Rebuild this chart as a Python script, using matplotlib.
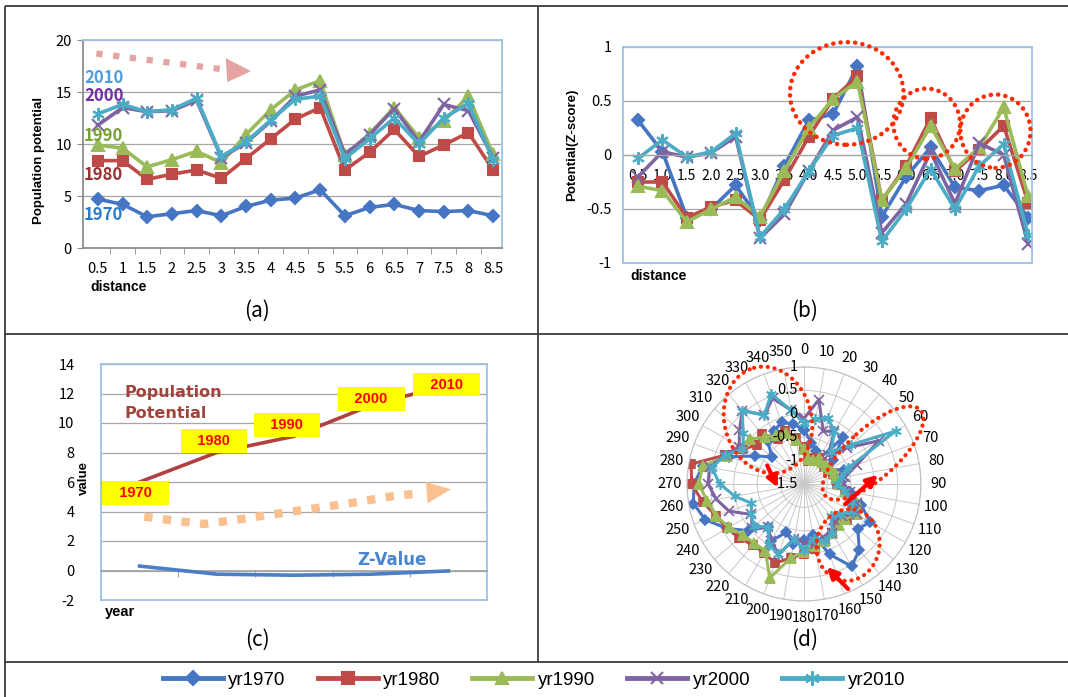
import matplotlib
matplotlib.use('Agg')
import matplotlib.pyplot as plt
import numpy as np
from matplotlib.patches import Ellipse, Polygon, FancyArrowPatch
from matplotlib.transforms import offset_copy
from matplotlib.lines import Line2D

plt.rcParams['font.family'] = ['Noto Sans CJK KR', 'DejaVu Sans']
plt.rcParams['axes.unicode_minus'] = False

W, H = 1068, 697

# ---------------- data ----------------
series_names = ['yr1970', 'yr1980', 'yr1990', 'yr2000', 'yr2010']

distance = [0.5, 1.0, 1.5, 2.0, 2.5, 3.0, 3.5, 4.0, 4.5, 5.0, 5.5, 6.0, 6.5, 7.0, 7.5, 8.0, 8.5]
dist_labels_a = ['0.5', '1', '1.5', '2', '2.5', '3', '3.5', '4', '4.5', '5', '5.5', '6', '6.5', '7', '7.5', '8', '8.5']
dist_labels_b = ['0.5', '1.0', '1.5', '2.0', '2.5', '3.0', '3.5', '4.0', '4.5', '5.0', '5.5', '6.0', '6.5', '7.0', '7.5', '8.0', '8.5']

pot_1970 = [4.7, 4.2, 3.0, 3.3, 3.6, 3.1, 4.0, 4.6, 4.8, 5.6, 3.1, 3.9, 4.2, 3.6, 3.5, 3.6, 3.1]
pot_1980 = [8.4, 8.4, 6.6, 7.1, 7.5, 6.7, 8.6, 10.5, 12.4, 13.5, 7.5, 9.2, 11.4, 8.8, 9.9, 11.1, 7.5]
pot_1990 = [9.9, 9.6, 7.8, 8.5, 9.3, 8.2, 10.9, 13.3, 15.2, 16.1, 8.9, 11.0, 13.5, 10.6, 12.2, 14.6, 9.0]
pot_2000 = [11.8, 13.5, 13.1, 13.2, 14.2, 8.7, 10.1, 12.2, 14.6, 15.2, 9.0, 10.9, 13.4, 10.2, 13.8, 13.2, 8.7]
pot_2010 = [12.9, 13.8, 13.1, 13.3, 14.4, 8.8, 10.2, 12.3, 14.3, 14.6, 8.6, 10.5, 12.5, 10.0, 12.5, 13.9, 8.5]

z_1970 = [0.32, 0.03, -0.58, -0.50, -0.28, -0.60, -0.10, 0.32, 0.38, 0.82, -0.57, -0.20, 0.07, -0.30, -0.33, -0.28, -0.58]
z_1980 = [-0.25, -0.25, -0.58, -0.48, -0.42, -0.60, -0.23, 0.17, 0.52, 0.73, -0.42, -0.10, 0.34, -0.15, 0.05, 0.27, -0.44]
z_1990 = [-0.29, -0.33, -0.62, -0.50, -0.39, -0.57, -0.15, 0.25, 0.52, 0.68, -0.42, -0.12, 0.27, -0.13, 0.07, 0.44, -0.38]
z_2000 = [-0.20, 0.03, -0.02, 0.02, 0.17, -0.77, -0.55, -0.15, 0.23, 0.35, -0.72, -0.45, 0.03, -0.45, 0.11, 0.00, -0.82]
z_2010 = [-0.03, 0.14, -0.02, 0.03, 0.20, -0.76, -0.50, -0.15, 0.18, 0.25, -0.80, -0.50, -0.13, -0.50, -0.10, 0.10, -0.74]

years = ['1970', '1980', '1990', '2000', '2010']
pop_potential = [6.0, 8.0, 9.1, 11.2, 12.6]
z_value = [0.30, -0.25, -0.32, -0.25, -0.03]

angles = list(range(0, 360, 10))
polar_1970 = [-0.35, -0.6, -0.75, -0.9, -0.2, -0.7, -0.9, -0.6, -0.8, -0.8, -0.5, -0.2, 0.13, 0.0, 0.34, 0.53, 0.1, -0.4,
              -0.3, -0.2, -0.4, -0.1, -0.3, 0.05, 0.4, 0.74, 0.9, 0.85, 0.7, 0.2, -0.3, -0.6, -0.3, -0.2, -0.1, -0.2]
polar_1980 = [-0.7, -1.0, -0.9, -0.85, -0.9, -0.95, -0.9, -0.85, -0.8, -0.8, -0.6, -0.4, -0.3, -0.3, -0.4, -0.3, -0.2, -0.1,
              0.0, 0.1, 0.3, 0.2, 0.2, 0.3, 0.4, 0.5, 0.7, 0.9, 0.95, 0.3, 0.0, -0.2, -0.1, -0.4, -0.3, -0.5]
polar_1990 = [-0.75, -0.95, -0.95, -0.85, -0.9, -0.9, -0.85, -0.8, -0.8, -0.75, -0.6, -0.3, -0.2, -0.35, -0.35, -0.3, -0.2, -0.15,
              -0.05, 0.1, 0.64, 0.15, 0.15, 0.2, 0.35, 0.5, 0.6, 0.75, 0.7, 0.25, 0.1, 0.0, -0.2, -0.3, -0.35, -0.55]
polar_2000 = [-0.1, 0.33, -0.3, -0.2, -0.7, -0.3, 0.35, -0.3, -0.6, -0.65, -0.5, -0.3, -0.2, -0.45, -0.5, -0.3, -0.3, -0.2,
              -0.25, -0.3, 0.1, -0.1, -0.3, -0.05, -0.2, 0.2, 0.4, 0.55, 0.55, 0.3, 0.1, 0.3, 0.55, 0.2, 0.45, 0.1]
polar_2010 = [-0.2, -0.1, 0.0, -0.2, -0.6, -0.2, 0.76, -0.5, -0.7, -0.8, -0.6, -0.4, -0.3, -0.5, -0.6, -0.3, -0.2, -0.3,
              -0.1, -0.3, 0.1, 0.0, -0.3, -0.1, -0.2, -0.3, 0.0, 0.3, 0.5, 0.3, 0.0, 0.2, 0.55, 0.2, 0.55, 0.1]

# ---------------- styles ----------------
colors = ['#4675C3', '#BE4B48', '#9BBB59', '#8064A2', '#4BACC6']
markers = ['D', 's', '^', 'x', (6, 2, 0)]
msizes = [6, 7.5, 8, 8, 9]
LB = '#9DC3E6'
GRID = '#A6A6A6'
BOLD = dict(family=['Liberation Sans', 'DejaVu Sans'], fontweight='bold')

fig = plt.figure(figsize=(W / 100, H / 100), dpi=100)


def rect(l, t, r, b):
    return [l / W, 1 - b / H, (r - l) / W, (b - t) / H]


def style_box(ax):
    for s in ax.spines.values():
        s.set_color(LB)
        s.set_linewidth(1.3)


# ---------------- (a) ----------------
axA = fig.add_axes(rect(83, 40, 502, 248))
pots = [pot_1970, pot_1980, pot_1990, pot_2000, pot_2010]
for vals, c, m, ms, n in zip(pots, colors, markers, msizes, series_names):
    axA.plot(distance, vals, color=c, marker=m, ms=ms, lw=2.6, mew=1.5, label=n)
axA.set_ylim(0, 20)
axA.set_yticks([0, 5, 10, 15, 20])
axA.set_xlim(distance[0] - 0.3, distance[-1] + 0.18)
axA.set_xticks(distance)
axA.set_xticklabels(dist_labels_a)
axA.set_xticks([d + 0.25 for d in distance[:-1]], minor=True)
axA.grid(axis='y', color=GRID, lw=0.9)
axA.set_axisbelow(True)
style_box(axA)
axA.spines['left'].set_color('#8C8C8C')
axA.spines['bottom'].set_color('#8C8C8C')
axA.tick_params(axis='x', which='major', length=0, pad=10, labelsize=10.5)
axA.tick_params(axis='x', which='minor', length=4, color='#8C8C8C')
axA.tick_params(axis='y', length=4, color='#8C8C8C', pad=4, labelsize=10.5)
axA.set_ylabel('Population potential', fontsize=9.5, **BOLD)
axA.yaxis.set_label_coords(-(83 - 45) / 419, (248 - 160) / 208)
axA.set_xlabel('distance', fontsize=10, ha='left', va='center', **BOLD)
axA.xaxis.set_label_coords(7 / 419, -(287 - 248) / 208)
# year labels
for txt, y, c in [('2010', 16.35, '#4F9DDC'), ('2000', 14.6, '#7030A0'), ('1990', 10.8, '#77A035'),
                  ('1980', 7.0, '#9B3030'), ('1970', 3.2, '#2B7CC9')]:
    axA.text(0.22, y, txt, color=c, fontsize=12, fontweight='bold', va='center', ha='left',
             family=['Noto Sans CJK KR', 'DejaVu Sans'])
# pink dotted arrow
axA.plot([0.47, 3.0], [18.7, 17.2], color='#E6A3A3', lw=4.5, ls=(0, (1, 1.7)), solid_capstyle='butt')
axA.add_patch(Polygon([(3.09, 18.25), (3.12, 15.95), (3.6, 17.0)], closed=True, color='#E6A3A3', lw=0))

# ---------------- (b) ----------------
axB = fig.add_axes(rect(623, 47, 1032, 263))
zs = [z_1970, z_1980, z_1990, z_2000, z_2010]
for vals, c, m, ms, n in zip(zs, colors, markers, msizes, series_names):
    axB.plot(distance, vals, color=c, marker=m, ms=ms, lw=2.6, mew=1.5)
axB.set_ylim(-1, 1)
axB.set_yticks([-1, -0.5, 0, 0.5, 1])
axB.set_yticklabels(['-1', '-0.5', '0', '0.5', '1'])
axB.set_xlim(distance[0] - 0.31, distance[-1] + 0.08)
axB.set_xticks(distance)
axB.set_xticklabels(dist_labels_b)
axB.grid(axis='y', color=GRID, lw=0.9)
axB.set_axisbelow(True)
style_box(axB)
axB.spines['bottom'].set_position(('data', 0))
axB.spines['bottom'].set_color(GRID)
axB.spines['bottom'].set_linewidth(0.9)
axB.axhline(-1, color=LB, lw=1.3, clip_on=False)
axB.tick_params(axis='x', length=0, pad=10, labelsize=10)
axB.tick_params(axis='y', length=0, pad=8, labelsize=10.5)
axB.set_ylabel('Potential(Z-score)', fontsize=9.5, **BOLD)
axB.yaxis.set_label_coords(-(623 - 578) / 409, (263 - 145) / 216)
axB.set_xlabel('distance', fontsize=10, ha='left', va='center', **BOLD)
axB.xaxis.set_label_coords(7 / 409, -(276 - 263) / 216)
for (ex, ey, w, h) in [(4.78, 0.57, 2.33, 0.95), (6.42, 0.29, 1.37, 0.65), (7.83, 0.22, 1.44, 0.68)]:
    e = Ellipse((ex, ey), w, h, fill=False, ec='#FF2A00', lw=3.2, ls=(0, (0.05, 1.6)), clip_on=False, zorder=5)
    e.set_capstyle('round')
    axB.add_patch(e)

# ---------------- (c) ----------------
axC = fig.add_axes(rect(101, 364, 487, 600))
xc = np.arange(len(years))
axC.plot(xc, pop_potential, color='#B0413E', lw=2.6, zorder=3)
axC.plot(xc, z_value, color='#4A7EC6', lw=2.6, zorder=3)
axC.set_xlim(-0.5, len(years) - 0.5)
axC.set_ylim(-2, 14)
axC.set_yticks(range(-2, 15, 2))
axC.grid(axis='y', color=GRID, lw=0.9)
axC.set_axisbelow(True)
style_box(axC)
axC.spines['bottom'].set_position(('data', 0))
axC.spines['bottom'].set_color(GRID)
axC.set_xticks([0.5, 1.5, 2.5, 3.5])
axC.set_xticklabels([])
axC.tick_params(axis='x', length=4, color=GRID)
axC.tick_params(axis='y', length=0, pad=19, labelsize=10.5)
axC.axhline(-2, color=LB, lw=1.3, clip_on=False)
axC.set_ylabel('value', fontsize=9.5, **BOLD)
axC.yaxis.set_label_coords(-(101 - 90) / 386, (600 - 478) / 236)
axC.text(0.01, -0.02, 'year', transform=axC.transAxes, fontsize=10.5, ha='left', va='top', **BOLD)
axC.text(0.06, 0.835, 'Population\nPotential', transform=axC.transAxes, fontsize=11.5, color='#A0433C',
         fontweight='bold', family='DejaVu Sans', va='center', linespacing=1.55)
axC.text(0.665, 0.17, 'Z-Value', transform=axC.transAxes, fontsize=12, color='#4A86D0',
         fontweight='bold', family='DejaVu Sans', va='center')
# orange dotted arrow
cur_x = [0.06, 0.5, 0.84, 1.2, 1.65, 2.25, 2.77, 3.29, 3.66]
cur_y = [3.65, 3.35, 3.15, 3.4, 3.75, 4.2, 4.6, 5.05, 5.25]
axC.plot(cur_x, cur_y, color='#FAC08F', lw=6, ls=(0, (1, 1.25)), solid_capstyle='butt', zorder=2)
axC.add_patch(Polygon([(3.71, 6.0), (3.73, 4.55), (4.03, 5.5)], closed=True, color='#FAC08F', lw=0, zorder=2))
# yellow year boxes
box_off = [(-3, -8), (-2, 8.5), (-5, 8), (0, 4.5), (-1.5, 0)]
for x, y, lab, off in zip(xc, pop_potential, years, box_off):
    axC.annotate('   ' + lab + '   ', (x, y), xytext=off, textcoords='offset points', ha='center', va='center',
                 fontsize=10.5, color='#FF0000', fontweight='bold', family=['Liberation Sans', 'DejaVu Sans'],
                 bbox=dict(boxstyle='square,pad=0.33', fc='#FFFF00', ec='none'), zorder=6, annotation_clip=False)

# ---------------- (d) ----------------
cx, cy, R = 804, 484, 117
axD = fig.add_axes(rect(cx - R, cy - R, cx + R, cy + R), projection='polar')
axD.set_theta_zero_location('N')
axD.set_theta_direction(-1)
pols = [polar_1970, polar_1980, polar_1990, polar_2000, polar_2010]
th = np.deg2rad(angles + [angles[0]])
for vals, c, m, ms in zip(pols, colors, markers, msizes):
    axD.plot(th, vals + [vals[0]], color=c, marker=m, ms=ms * 0.85, lw=2.2, mew=1.2)
axD.set_ylim(-1.5, 1)
rticks = [-1.5, -1, -0.5, 0, 0.5, 1]
axD.set_yticks(rticks)
axD.set_yticklabels([])
axD.set_thetagrids(angles, labels=[str(a) for a in angles])
axD.tick_params(axis='x', pad=2, labelsize=10.5)
axD.grid(color='#C8C8C8', lw=0.7)
axD.spines['polar'].set_color('#BFBFBF')
tr = offset_copy(axD.transData, fig=fig, x=-6, y=0, units='dots')
for v in rticks:
    axD.text(0, v, ('%g' % v), transform=tr, ha='right', va='center', fontsize=10.5, zorder=8)

# ---------------- overlay: table lines, labels, annotations ----------------
ov = fig.add_axes([0, 0, 1, 1])
ov.set_xlim(0, W)
ov.set_ylim(H, 0)
ov.axis('off')
ov.patch.set_visible(False)
LC = '#3C3C3C'
for xs, ys in [([5, W], [6, 6]), ([5, 5], [6, H]), ([538, 538], [6, 662]), ([5, W], [334, 334]), ([5, W], [662, 662])]:
    ov.plot(xs, ys, color=LC, lw=1.3, solid_capstyle='butt')
for lab, x, y in [('(a)', 257, 311), ('(b)', 805, 311), ('(c)', 257, 640), ('(d)', 805, 640)]:
    ov.text(x, y, lab, ha='center', va='center', fontsize=15)
RED = '#FF2A00'
for (ex, ey, ew, eh, ang) in [(768, 420, 87, 108, -15), (873, 453, 128, 50, -42), (848, 545, 63, 72, 10)]:
    e = Ellipse((ex, ey), ew, eh, angle=ang, fill=False, ec=RED, lw=3.0, ls=(0, (0.05, 1.6)))
    e.set_capstyle('round')
    ov.add_patch(e)
for (x0, y0, x1, y1) in [(766, 463, 779, 490), (843, 506, 880, 473), (850, 591, 825, 565)]:
    ov.add_patch(FancyArrowPatch((x0, y0), (x1, y1), arrowstyle='-|>', mutation_scale=16, lw=3, color='#FF0000'))

# ---------------- legend ----------------
handles = [Line2D([], [], color=c, marker=m, ms=ms * 1.15, lw=3.5, mew=1.5) for c, m, ms in zip(colors, markers, msizes)]
fig.legend(handles, series_names, loc='center', bbox_to_anchor=(534 / W, 1 - 680 / H), ncol=5, frameon=False,
           handlelength=3.2, handletextpad=0.3, columnspacing=1.7,
           prop=dict(family=['Liberation Sans', 'DejaVu Sans'], size=13.5))

fig.savefig('out.png', dpi=100)
